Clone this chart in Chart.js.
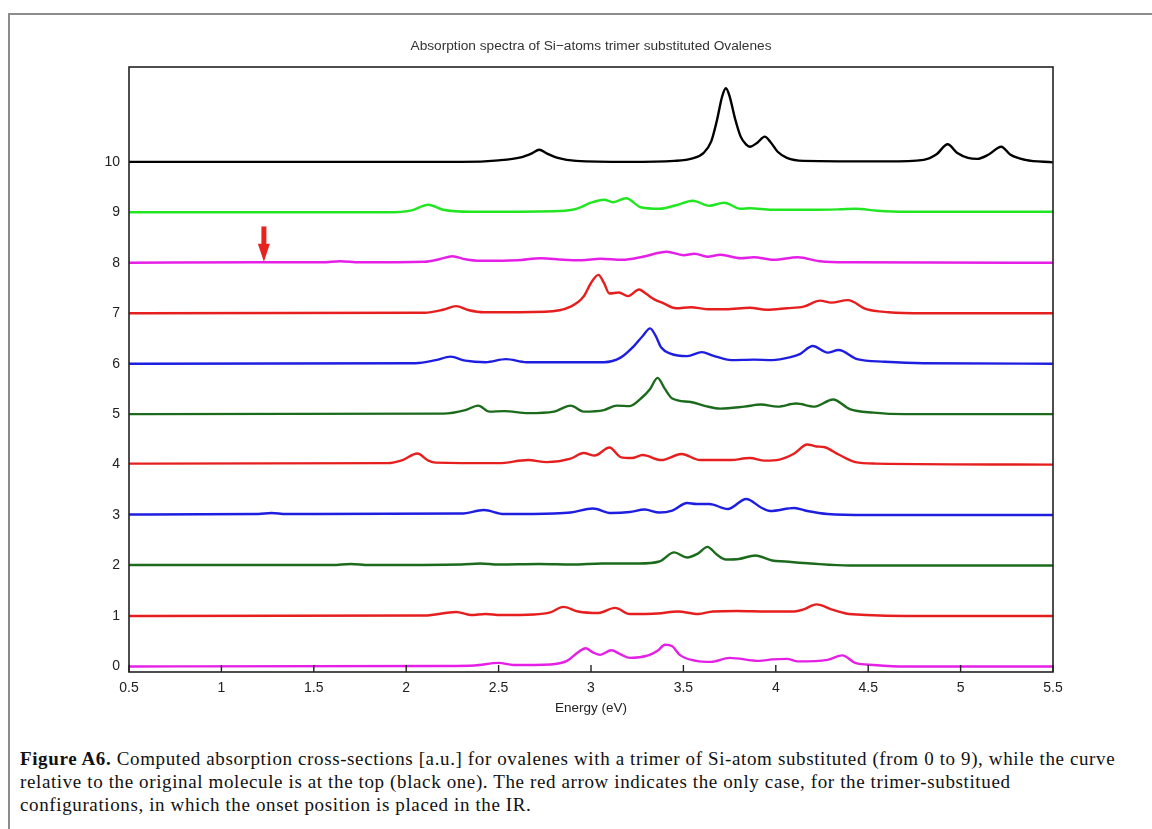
<!DOCTYPE html>
<html>
<head>
<meta charset="utf-8">
<script src="https://cdn.jsdelivr.net/npm/chart.js@4.4.1/dist/chart.umd.min.js"></script>
<style>
body { margin: 0; background: #fff; width: 1152px; height: 829px; overflow: hidden; position: relative; }
#frame { position: absolute; left: 8px; top: 13px; width: 1160px; height: 830px; border-left: 2px solid #8c8c8c; border-top: 2px solid #8c8c8c; }
#chart { position: absolute; left: 0; top: 0; }
#caption { position: absolute; left: 20px; top: 747px; font-family: "Liberation Serif", "DejaVu Serif", serif; font-size: 19px; letter-spacing: 0.62px; line-height: 23px; color: #111; white-space: nowrap; }
</style>
</head>
<body>
<div id="frame"></div>
<canvas id="chart" width="1152" height="730"></canvas>
<div id="caption">
<b>Figure A6.</b> Computed absorption cross-sections [a.u.] for ovalenes with a trimer of Si-atom substituted (from 0 to 9), while the curve<br>
relative to the original molecule is at the top (black one). The red arrow indicates the only case, for the trimer-substitued<br>
configurations, in which the onset position is placed in the IR.
</div>
<script>
// spectra: [energy eV, offset absorbance]
const chartTitle = "Absorption spectra of Si\u2212atoms trimer substituted Ovalenes";
const xTicks = [0.5, 1, 1.5, 2, 2.5, 3, 3.5, 4, 4.5, 5, 5.5];
const yTicks = [0, 1, 2, 3, 4, 5, 6, 7, 8, 9, 10];

const curve0 = [[0.5,0.0],[2.2,0.01],[2.37,0.02],[2.50,0.07],[2.58,0.03],[2.78,0.04],[2.87,0.11],[2.93,0.28],[2.97,0.36],[3.01,0.28],[3.05,0.23],[3.11,0.32],[3.16,0.24],[3.21,0.17],[3.31,0.22],[3.36,0.31],[3.40,0.43],[3.44,0.40],[3.48,0.23],[3.57,0.11],[3.65,0.09],[3.75,0.17],[3.91,0.11],[3.98,0.14],[4.06,0.15],[4.12,0.10],[4.28,0.13],[4.36,0.22],[4.43,0.07],[4.53,0.03],[4.7,0.0],[5.5,0.0]];
const curve1 = [[0.5,1.0],[2.1,1.01],[2.27,1.08],[2.35,1.02],[2.43,1.04],[2.51,1.02],[2.69,1.03],[2.78,1.07],[2.85,1.18],[2.93,1.09],[3.04,1.06],[3.13,1.16],[3.21,1.04],[3.36,1.05],[3.47,1.09],[3.58,1.04],[3.66,1.09],[3.79,1.10],[3.95,1.09],[4.10,1.09],[4.15,1.13],[4.22,1.23],[4.31,1.12],[4.38,1.05],[4.49,1.02],[4.7,1.0],[5.5,1.0]];
const curve2 = [[0.5,2.01],[1.6,2.01],[1.7,2.03],[1.8,2.01],[2.3,2.02],[2.40,2.04],[2.5,2.02],[2.72,2.03],[2.9,2.02],[3.06,2.04],[3.26,2.04],[3.37,2.08],[3.45,2.26],[3.52,2.16],[3.58,2.24],[3.63,2.37],[3.68,2.22],[3.73,2.12],[3.80,2.13],[3.89,2.20],[3.98,2.10],[4.05,2.08],[4.19,2.04],[4.4,2.0],[5.5,2.0]];
const curve3 = [[0.5,3.01],[1.2,3.02],[1.27,3.04],[1.35,3.02],[2.3,3.03],[2.42,3.10],[2.53,3.02],[2.8,3.03],[2.89,3.05],[3.01,3.13],[3.11,3.04],[3.21,3.06],[3.29,3.11],[3.37,3.05],[3.44,3.09],[3.52,3.24],[3.57,3.22],[3.64,3.22],[3.74,3.12],[3.84,3.32],[3.92,3.15],[3.97,3.08],[4.10,3.14],[4.17,3.08],[4.28,3.02],[4.5,3.0],[5.5,3.0]];
const curve4 = [[0.5,4.02],[1.9,4.03],[1.98,4.09],[2.06,4.22],[2.12,4.08],[2.16,4.04],[2.5,4.03],[2.66,4.09],[2.76,4.05],[2.89,4.12],[2.96,4.23],[3.02,4.18],[3.10,4.34],[3.16,4.15],[3.22,4.13],[3.28,4.19],[3.38,4.09],[3.49,4.21],[3.59,4.09],[3.75,4.09],[3.86,4.13],[3.94,4.08],[4.02,4.10],[4.10,4.22],[4.17,4.40],[4.22,4.36],[4.26,4.35],[4.34,4.20],[4.43,4.05],[4.54,4.02],[5.5,4.0]];
const curve5 = [[0.5,5.0],[2.2,5.01],[2.32,5.08],[2.39,5.17],[2.45,5.05],[2.53,5.06],[2.66,5.02],[2.80,5.05],[2.89,5.17],[2.96,5.05],[3.07,5.08],[3.14,5.17],[3.21,5.16],[3.27,5.31],[3.32,5.5],[3.36,5.72],[3.40,5.5],[3.44,5.31],[3.54,5.24],[3.62,5.16],[3.70,5.11],[3.83,5.15],[3.92,5.19],[4.01,5.15],[4.11,5.21],[4.21,5.15],[4.31,5.29],[4.40,5.10],[4.53,5.03],[4.7,5.0],[5.5,5.0]];
const curve6 = [[0.5,6.0],[2.05,6.01],[2.16,6.07],[2.24,6.14],[2.32,6.06],[2.43,6.03],[2.54,6.09],[2.65,6.03],[3.07,6.03],[3.16,6.12],[3.23,6.34],[3.28,6.55],[3.32,6.70],[3.35,6.55],[3.38,6.32],[3.43,6.20],[3.52,6.15],[3.60,6.23],[3.66,6.16],[3.76,6.07],[3.88,6.08],[3.98,6.07],[4.08,6.13],[4.13,6.19],[4.20,6.35],[4.28,6.22],[4.34,6.27],[4.44,6.09],[4.59,6.04],[4.8,6.01],[5.5,6.0]];
const curve7 = [[0.5,7.0],[2.1,7.01],[2.2,7.07],[2.27,7.14],[2.34,7.06],[2.42,7.02],[2.75,7.03],[2.89,7.13],[2.96,7.33],[3.0,7.6],[3.04,7.76],[3.07,7.6],[3.10,7.39],[3.15,7.41],[3.20,7.34],[3.26,7.47],[3.30,7.38],[3.34,7.28],[3.39,7.20],[3.46,7.10],[3.54,7.12],[3.63,7.08],[3.73,7.08],[3.86,7.11],[3.95,7.07],[4.06,7.10],[4.15,7.13],[4.24,7.25],[4.30,7.21],[4.39,7.26],[4.49,7.08],[4.61,7.02],[4.8,7.0],[5.5,7.0]];
const curve8 = [[0.5,8.0],[1.2,8.01],[1.55,8.01],[1.64,8.03],[1.75,8.01],[2.1,8.02],[2.18,8.07],[2.25,8.13],[2.32,8.07],[2.40,8.04],[2.6,8.05],[2.73,8.09],[2.85,8.06],[2.95,8.05],[3.05,8.08],[3.17,8.06],[3.28,8.12],[3.41,8.22],[3.50,8.15],[3.56,8.18],[3.63,8.12],[3.70,8.16],[3.81,8.09],[3.88,8.11],[3.99,8.06],[4.12,8.11],[4.24,8.03],[4.4,8.01],[5.5,8.0]];
const curve9 = [[0.5,9.0],[1.9,9.0],[2.03,9.04],[2.12,9.15],[2.2,9.05],[2.35,9.01],[2.8,9.02],[2.9,9.05],[2.95,9.11],[3.0,9.19],[3.07,9.25],[3.12,9.20],[3.19,9.28],[3.27,9.10],[3.37,9.07],[3.46,9.14],[3.55,9.23],[3.64,9.13],[3.72,9.19],[3.81,9.07],[3.86,9.08],[3.98,9.05],[4.2,9.05],[4.35,9.06],[4.43,9.07],[4.55,9.03],[4.7,9.01],[5.5,9.01]];
const curve10 = [[0.5,10.0],[2.3,10.0],[2.5,10.03],[2.62,10.09],[2.68,10.17],[2.72,10.24],[2.76,10.17],[2.82,10.08],[2.92,10.02],[3.2,10.0],[3.45,10.02],[3.55,10.07],[3.61,10.18],[3.65,10.4],[3.68,10.8],[3.71,11.3],[3.73,11.46],[3.75,11.3],[3.78,10.85],[3.81,10.5],[3.84,10.34],[3.86,10.30],[3.9,10.38],[3.94,10.5],[3.97,10.4],[4.01,10.2],[4.06,10.08],[4.15,10.02],[4.6,10.01],[4.8,10.04],[4.87,10.15],[4.93,10.35],[4.98,10.18],[5.04,10.08],[5.09,10.06],[5.15,10.14],[5.22,10.30],[5.27,10.14],[5.35,10.04],[5.5,9.99]];

const curves = [curve0, curve1, curve2, curve3, curve4, curve5, curve6, curve7, curve8, curve9, curve10];
const curveColors = ["#e61fe6", "#e61e1e", "#1c6b1c", "#1e1ee0", "#e61e1e", "#1c6b1c", "#1e1ee0", "#e61e1e", "#e61fe6", "#22e622", "#000000"];

// red arrow marking the IR onset
const arrowEnergy = 1.23;
const arrowTop = 8.72;
const arrowTip = 8.02;

const sans = "'Liberation Sans', Arial, Helvetica, sans-serif";

const boxPlugin = {
    id: "box",
    afterDatasetsDraw(chart) {
        const ctx = chart.ctx;
        const a = chart.chartArea;
        const xs = chart.scales.x;
        const ys = chart.scales.y;
        ctx.save();
        // title, centred over the plot box
        ctx.fillStyle = "#333";
        ctx.font = "13.7px " + sans;
        ctx.textAlign = "center";
        ctx.textBaseline = "middle";
        ctx.fillText(chartTitle, (a.left + a.right) / 2, a.top - 21);
        // arrow
        const ax = xs.getPixelForValue(arrowEnergy);
        const aTop = ys.getPixelForValue(arrowTop);
        const aTip = ys.getPixelForValue(arrowTip);
        ctx.fillStyle = "#e8231f";
        ctx.fillRect(ax - 2.5, aTop, 5, (aTip - aTop) - 16);
        ctx.beginPath();
        ctx.moveTo(ax - 6, aTip - 18);
        ctx.lineTo(ax + 6, aTip - 18);
        ctx.lineTo(ax, aTip);
        ctx.closePath();
        ctx.fill();
        // frame
        ctx.strokeStyle = "#222";
        ctx.lineWidth = 1.6;
        ctx.strokeRect(a.left, a.top, a.right - a.left, a.bottom - a.top);
        // inward ticks on the energy axis
        ctx.lineWidth = 1.4;
        ctx.beginPath();
        xTicks.forEach(v => {
            const px = xs.getPixelForValue(v);
            ctx.moveTo(px, a.bottom);
            ctx.lineTo(px, a.bottom - 7);
        });
        ctx.stroke();
        ctx.restore();
    }
};

new Chart(document.getElementById("chart"), {
    type: "line",
    data: {
        datasets: curves.map((c, i) => ({
            label: "curve " + i,
            data: c.map(p => ({ x: p[0], y: p[1] })),
            borderColor: curveColors[i],
            borderWidth: 2.4,
            pointRadius: 0,
            fill: false,
            cubicInterpolationMode: "monotone"
        }))
    },
    options: {
        responsive: false,
        animation: false,
        devicePixelRatio: 1,
        layout: { padding: { left: 0, right: 99, top: 67, bottom: 0 } },
        plugins: {
            legend: { display: false },
            tooltip: { enabled: false },
            title: { display: false }
        },
        scales: {
            x: {
                type: "linear",
                min: 0.5,
                max: 5.5,
                afterBuildTicks: s => { s.ticks = xTicks.map(v => ({ value: v })); },
                afterFit: s => { s.height = 58; },
                grid: { display: false, drawTicks: false },
                border: { display: false },
                ticks: { padding: 8, color: "#222", font: { family: sans, size: 14 }, autoSkip: false, maxRotation: 0, callback: v => String(v) },
                title: { display: true, text: "Energy (eV)", color: "#222", font: { family: sans, size: 13.5 }, padding: { top: 4, bottom: 14 } }
            },
            y: {
                type: "linear",
                min: -0.11,
                max: 11.88,
                afterBuildTicks: s => { s.ticks = yTicks.map(v => ({ value: v })); },
                afterFit: s => { s.width = 129; },
                grid: { display: false, drawTicks: false },
                border: { display: false },
                ticks: { padding: 9, color: "#222", font: { family: sans, size: 14 }, callback: v => String(v) }
            }
        }
    },
    plugins: [boxPlugin]
});
</script>
</body>
</html>
